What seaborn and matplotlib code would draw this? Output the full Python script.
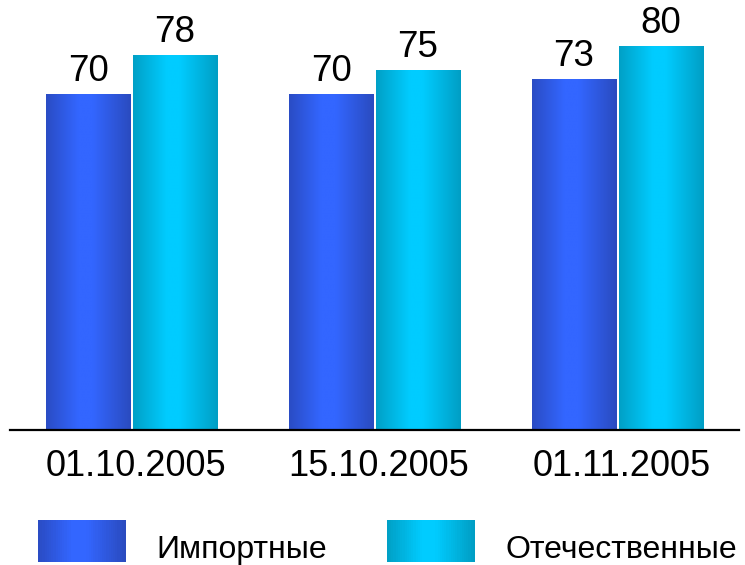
import numpy as np
import pandas as pd
import matplotlib
matplotlib.use("Agg")
import matplotlib.pyplot as plt
import matplotlib.transforms as mtransforms
import seaborn as sns
from matplotlib.colors import LinearSegmentedColormap
from matplotlib.legend_handler import HandlerBase
from matplotlib.patches import Rectangle

dates = ["01.10.2005", "15.10.2005", "01.11.2005"]
imported = [70, 70, 73]
domestic = [78, 75, 80]
series = ["Импортные", "Отечественные"]

df = pd.DataFrame({
    "date": dates * 2,
    "value": imported + domestic,
    "kind": [series[0]] * 3 + [series[1]] * 3,
})

# horizontal gradients: dark edge -> bright -> dark edge
cmaps = {
    series[0]: LinearSegmentedColormap.from_list(
        "imp", [(0, "#2a4cc4"), (0.38, "#3366ff"), (0.55, "#3366ff"), (1, "#2a4bbf")]),
    series[1]: LinearSegmentedColormap.from_list(
        "dom", [(0, "#00a0c6"), (0.4, "#00ccff"), (0.55, "#00ccff"), (1, "#009ec4")]),
}


class GradientHandler(HandlerBase):
    def __init__(self, cmap):
        super().__init__()
        self.cmap = cmap

    def create_artists(self, legend, orig_handle, xdescent, ydescent,
                       width, height, fontsize, trans):
        n = 40
        rects = []
        for i in range(n):
            rects.append(Rectangle((-xdescent + width * i / n, -ydescent),
                                   width / n * 1.05, height,
                                   facecolor=self.cmap(i / (n - 1)),
                                   edgecolor="none", transform=trans))
        return rects


sns.set_style("white")
plt.rcParams["font.family"] = ["Liberation Sans", "DejaVu Sans"]
plt.rcParams["text.color"] = "black"
plt.rcParams["xtick.color"] = "black"

fig = plt.figure(figsize=(7.45, 5.65), dpi=100)
ax = fig.add_axes([10 / 745, 1 - 430 / 565, 729 / 745, 422 / 565])

sns.barplot(data=df, x="date", y="value", hue="kind", hue_order=series,
            palette=["#3366ff", "#00ccff"], width=0.716, gap=0.025,
            saturation=1, ax=ax)

grad = np.linspace(0, 1, 256).reshape(1, -1)
for cont, name in zip(ax.containers, series):
    for p in cont:
        x, w, h = p.get_x(), p.get_width(), p.get_height()
        ax.imshow(grad, cmap=cmaps[name], aspect="auto", zorder=2,
                  extent=[x, x + w, 0, h], interpolation="bilinear")
        p.set_visible(False)
    ax.bar_label(cont, fmt="%.0f", padding=4, fontsize=26.5, color="black")

ax.set_xlim(-0.5, 2.5)
ax.set_ylim(0, 88)
ax.set_xlabel("")
ax.set_ylabel("")
ax.set_yticks([])
ax.tick_params(axis="x", length=0, pad=14, labelsize=26, labelcolor="black")
shift = mtransforms.ScaledTranslation(4 / 100, 0, fig.dpi_scale_trans)
for lbl in ax.get_xticklabels():
    lbl.set_transform(lbl.get_transform() + shift)
for s in ["top", "left", "right"]:
    ax.spines[s].set_visible(False)
ax.spines["bottom"].set_color("black")
ax.spines["bottom"].set_linewidth(1.6)
ax.spines["bottom"].set_zorder(3)

handles, labels = ax.get_legend_handles_labels()
ax.get_legend().remove()
leg = fig.legend(handles, labels, loc="lower left",
                 bbox_to_anchor=(38 / 745, 3 / 565), ncol=2, frameon=False,
                 fontsize=23, handlelength=2.76, handleheight=1.65,
                 handletextpad=0.94, columnspacing=1.88, borderpad=0,
                 borderaxespad=0, labelcolor="black",
                 handler_map={h: GradientHandler(cmaps[l]) for h, l in zip(handles, labels)})
down = mtransforms.ScaledTranslation(0, -7 / 100, fig.dpi_scale_trans)
for t in leg.get_texts():
    t.set_transform(t.get_transform() + down)

fig.savefig("out.png", dpi=100)
